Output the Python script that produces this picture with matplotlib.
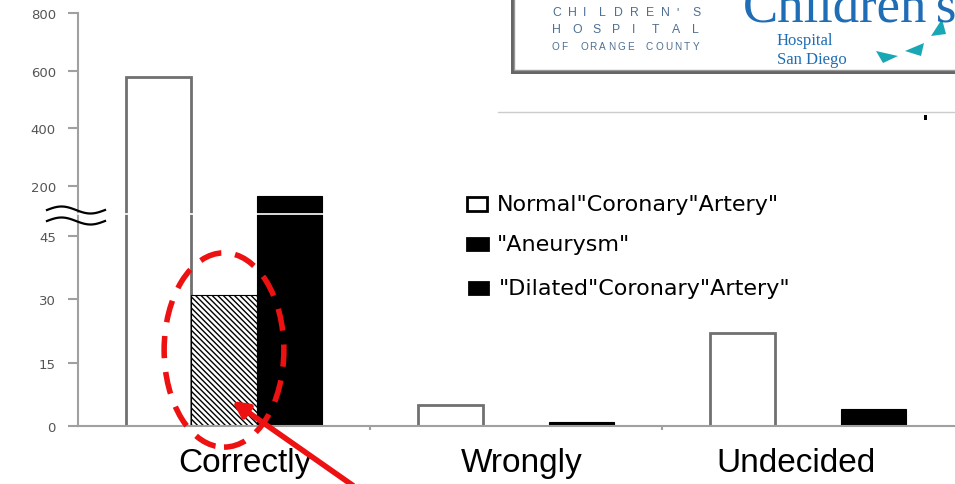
import numpy as np
import matplotlib.pyplot as plt
from matplotlib.patches import Rectangle, Ellipse, Polygon
from matplotlib.lines import Line2D

categories = ['Correctly', 'Wrongly', 'Undecided']
normal = [579, 5, 22]
aneurysm = [31, 0, 0]
dilated = [165, 1, 4]
legend_labels = ['Normal"Coronary"Artery"', '"Aneurysm"', '"Dilated"Coronary"Artery"']

W, H = 955, 485
fig = plt.figure(figsize=(W / 100, H / 100), dpi=100)


def fx(px):
    return px / W


def fy(py):
    return (H - py) / H


# two stacked axes for the broken y scale
ax_top = fig.add_axes([fx(78), fy(215), fx(954) - fx(78), fy(14) - fy(215)])
ax_bot = fig.add_axes([fx(78), fy(427), fx(954) - fx(78), fy(215) - fy(427)])

x = np.arange(len(categories))
bw = 0.223
grey = '#707070'
for ax in (ax_top, ax_bot):
    ax.bar(x - bw, normal, bw, color='white', edgecolor=grey, linewidth=2)
    ax.bar(x, aneurysm, bw, color='white', edgecolor='black', linewidth=0.8,
           hatch='\\\\\\\\\\\\')
    ax.bar(x + bw, dilated, bw, color='black', edgecolor='black', linewidth=0.8)
    ax.set_xlim(-0.5, 2.5)
    for s in ('top', 'right'):
        ax.spines[s].set_visible(False)
    ax.spines['left'].set_color('#a0a0a0')
    ax.spines['left'].set_linewidth(1.5)
    ax.tick_params(axis='y', colors='#a0a0a0', labelcolor='#555555', labelsize=9.5,
                   length=7, width=1.5, pad=9)

ax_top.set_ylim(103, 800)
ax_top.set_yticks([200, 400, 600, 800])
ax_top.spines['bottom'].set_visible(False)
ax_top.set_xticks([])

ax_bot.set_ylim(0, 50.2)
ax_bot.set_yticks([0, 15, 30, 45])
ax_bot.spines['bottom'].set_color('#a0a0a0')
ax_bot.spines['bottom'].set_linewidth(1.5)
ax_bot.set_xticks([0.5, 1.5])
ax_bot.set_xticklabels([])
ax_bot.tick_params(axis='x', colors='#a0a0a0', length=3, width=1.5)
for i, c in enumerate(categories):
    ax_bot.text(i + [0.07, 0.02, -0.04][i], -5.0, c, ha='center', va='top',
                fontsize=24, family='Liberation Sans', color='black')

# white gap at the break and wavy break marks
fig.add_artist(Line2D([fx(78), 1], [fy(215), fy(215)], color='white', lw=1.2))
t = np.linspace(0, 1, 60)
for yc in (211, 222):
    xs = 47 + 58 * t
    ys = yc - 3.5 * np.sin(2 * np.pi * t)
    fig.add_artist(Line2D(fx(xs), fy(ys), color='black', lw=1.6))

# legend drawn by hand
sq = [(467, 198, 20, 14, 'white'), (467, 239, 21, 12, 'black'), (469, 283, 19, 12, 'black')]
ty = [205, 245, 289]
tx = [497, 497, 499]
for (sx, sy, sw, sh, fc), lab, yy, xx in zip(sq, legend_labels, ty, tx):
    fig.add_artist(Rectangle((fx(sx), fy(sy + sh)), fx(sw), sh / H, facecolor=fc,
                             edgecolor='black', lw=2))
    fig.text(fx(xx), fy(yy), lab, ha='left', va='center', fontsize=16,
             family='DejaVu Sans', color='black')

# highlight around the hatched bar
ax_bot.add_patch(Ellipse((0, 18), 0.41, 46, fill=False, edgecolor='#ee1111', lw=4,
                         linestyle=(0, (4, 2.5)), clip_on=False, zorder=5))
ax_bot.annotate('', xy=(0.02, 6.3), xytext=(0.45, -14.5),
                arrowprops=dict(arrowstyle='-|>,head_length=0.9,head_width=0.45',
                                color='#ee1111', lw=4),
                annotation_clip=False, zorder=6)

# hospital logo banner
fig.add_artist(Rectangle((fx(498), fy(113)), 1, 113 / H, facecolor='white',
                         edgecolor='none', zorder=3))
fig.add_artist(Line2D([fx(498), 1], [fy(113), fy(113)], color='#cccccc', lw=1, zorder=4))
fig.add_artist(Rectangle((fx(511), fy(75)), 1, 80 / H, facecolor='#666666',
                         edgecolor='none', zorder=4))
fig.add_artist(Rectangle((fx(514), fy(71)), 1, 76 / H, facecolor='white',
                         edgecolor='#999999', lw=1, zorder=5))

blue_grey = '#4d6f93'
logo_lines = [("CHILDREN'S", 13, 8.8, 15.6), ('HOSPITAL', 30, 8.8, 20.0),
              ('OF ORANGE COUNTY', 47, 7.2, 9.4)]
for word, yy, size, step in logo_lines:
    for k, ch in enumerate(word):
        fig.text(fx(552 + k * step), fy(yy), ch, fontsize=size, color=blue_grey,
                 family='Liberation Sans', va='center', ha='left', zorder=6)

fig.text(fx(743), fy(21), "Children's", fontsize=38, color='#1f6db5',
         family='Liberation Serif', va='baseline', ha='left', zorder=6)
fig.text(fx(777), fy(41), 'Hospital', fontsize=12, color='#1f6db5',
         family='Liberation Serif', va='center', ha='left', zorder=6)
fig.text(fx(777), fy(60), 'San Diego', fontsize=12, color='#1f6db5',
         family='Liberation Serif', va='center', ha='left', zorder=6)
teal = '#1aa7b5'
for pts in ([(876, 52), (898, 57), (883, 64)],
            [(905, 52), (924, 44), (921, 57)],
            [(931, 37), (942, 20), (946, 35)]):
    fig.add_artist(Polygon([(fx(a), fy(b)) for a, b in pts], closed=True,
                           facecolor=teal, edgecolor='none', zorder=6))
fig.add_artist(Rectangle((fx(924), fy(121)), fx(3), 5 / H, facecolor='black',
                         edgecolor='none', zorder=6))

fig.savefig('out.png', dpi=100)
